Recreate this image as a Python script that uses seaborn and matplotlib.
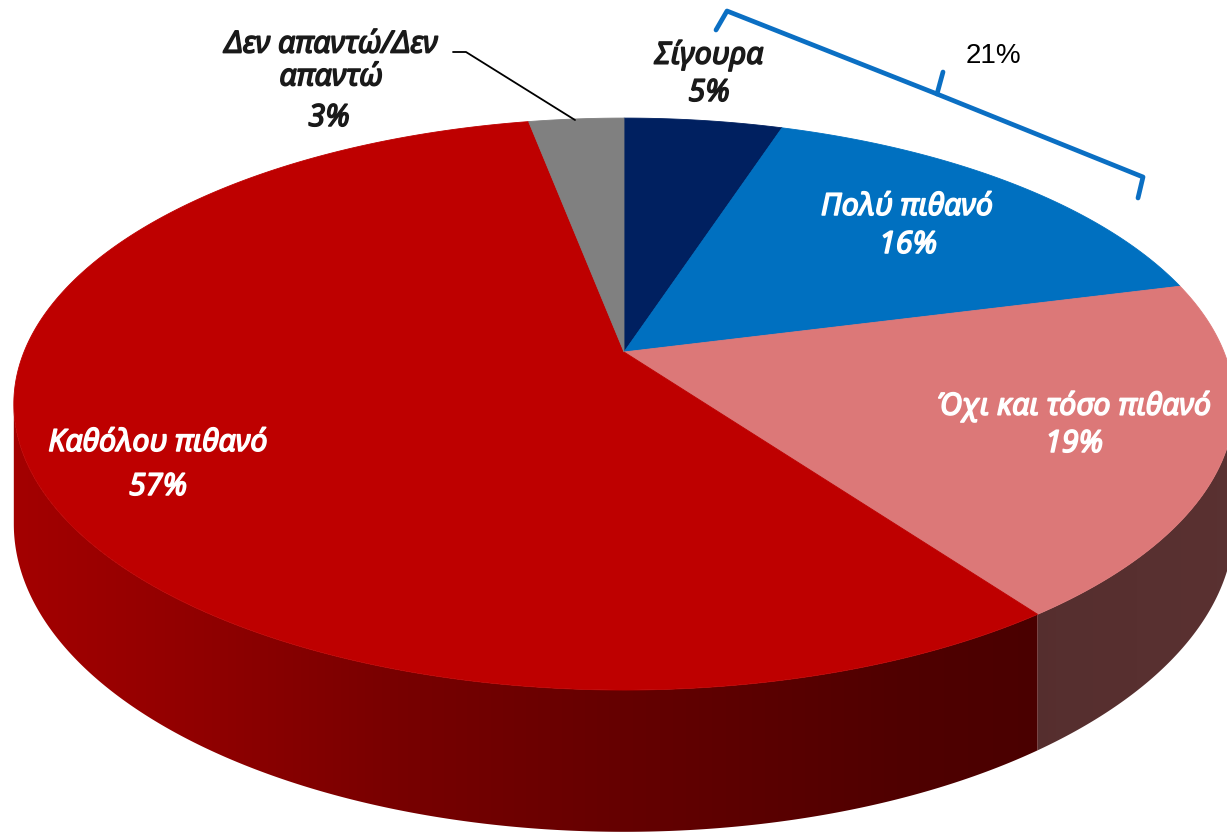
import matplotlib
matplotlib.use("Agg")
import matplotlib.pyplot as plt
import matplotlib.patheffects as pe
import numpy as np
import seaborn as sns
from matplotlib.colors import to_rgb
from matplotlib.patches import Polygon

sns.set_theme(style="white")
plt.rcParams["font.family"] = ["Noto Sans", "DejaVu Sans"]

# answers, clockwise from 12 o'clock
categories = ["Σίγουρα", "Πολύ πιθανό", "Όχι και τόσο πιθανό",
              "Καθόλου πιθανό", "Δεν απαντώ/Δεν\nαπαντώ"]
shares = [5, 16, 19, 57, 3]
slice_colors = ["#002060", "#0070C0", "#DC7878", "#BE0000", "#808080"]

# canvas projection of the tilted disc (pixel units)
W, H = 1227, 834
CX, CY = 624, 352
RX, RY = 600, 276.5
PERSP = 0.182
DEPTH = 116


def project(theta, drop=0.0):
    """Map an angle on the disc rim (clockwise from top) to canvas pixels."""
    u, v = np.sin(theta), -np.cos(theta)
    s = 1.0 / (1.0 - PERSP * v)
    return CX + RX * u * s, CY + RY * v * s + drop * s


def side_shade(x):
    """Darkening factor of the rim, lighter on the left."""
    return np.interp(x, [14, 200, 400, 624, 900, 1040, 1234],
                     [0.86, 0.76, 0.63, 0.53, 0.42, 0.39, 0.41])


fig = plt.figure(figsize=(12.27, 8.34), dpi=100)
ax = fig.add_axes([0, 0, 1, 1])
ax.set_xlim(0, W)
ax.set_ylim(H, 0)
ax.axis("off")

bounds = np.concatenate([[0], np.cumsum(shares)]) / sum(shares) * 2 * np.pi
t_right = np.arccos(-PERSP)
t_left = 2 * np.pi - t_right

# rim (only the front half is visible), shaded left to right
grad_x = np.linspace(0, W, W)
for i, col in enumerate(slice_colors):
    lo, hi = max(bounds[i], t_right), min(bounds[i + 1], t_left)
    if lo >= hi:
        continue
    ts = np.linspace(lo, hi, 300)
    xt, yt = project(ts)
    xb, yb = project(ts[::-1], DEPTH)
    outline = np.column_stack([np.r_[xt, xb], np.r_[yt, yb]])
    clip = Polygon(outline, closed=True, facecolor="none", edgecolor="none")
    ax.add_patch(clip)
    shade = np.array(to_rgb(col))[None, :] * side_shade(grad_x)[:, None]
    img = ax.imshow(shade[None, :, :], extent=(0, W, H, 0), aspect="auto",
                    interpolation="bilinear", zorder=1)
    img.set_clip_path(clip)

# top face
for i, col in enumerate(slice_colors):
    ts = np.linspace(bounds[i], bounds[i + 1], 300)
    xs, ys = project(ts)
    pts = np.column_stack([np.r_[CX, xs], np.r_[CY, ys]])
    ax.add_patch(Polygon(pts, closed=True, facecolor=col, edgecolor=col,
                         lw=0.6, zorder=2))

# labels (a thin stroke in the text colour gives the heavy italic look)
label_style = dict(fontsize=22, fontstyle="italic", ha="center", va="center", zorder=5)
name_pos = [(709, 55), (907, 207), (1074, 406), (158, 443), (331, 61)]
pct_pos = [(709, 93), (908, 245), (1074, 444), (158, 487), (329, 118)]
text_colors = ["#1a1a1a", "white", "white", "white", "#1a1a1a"]
for name, val, p1, p2, tc in zip(categories, shares, name_pos, pct_pos, text_colors):
    bold = [pe.withStroke(linewidth=1.1, foreground=tc)]
    ax.text(*p1, name, color=tc, linespacing=1.12, path_effects=bold, **label_style)
    ax.text(*p2, f"{val}%", color=tc, path_effects=bold, **label_style)

# leader line for the small slice
ax.plot([453, 466, 575], [52, 52, 120], color="black", lw=1.3, zorder=4)

# bracket over the two "likely" slices
bracket_color = "#0B6FC3"
for bx, by in [([716, 727, 937, 943], [30, 11, 94, 72]),
               ([937, 1143, 1138], [94, 177, 198])]:
    ax.plot(bx, by, color=bracket_color, lw=3.4, zorder=4,
            solid_capstyle="round", solid_joinstyle="round")
ax.text(993, 56, f"{shares[0] + shares[1]}%", fontsize=20, family="Liberation Sans",
        color="black", ha="center", va="center")

fig.savefig("out.png", dpi=100)
plt.close(fig)
